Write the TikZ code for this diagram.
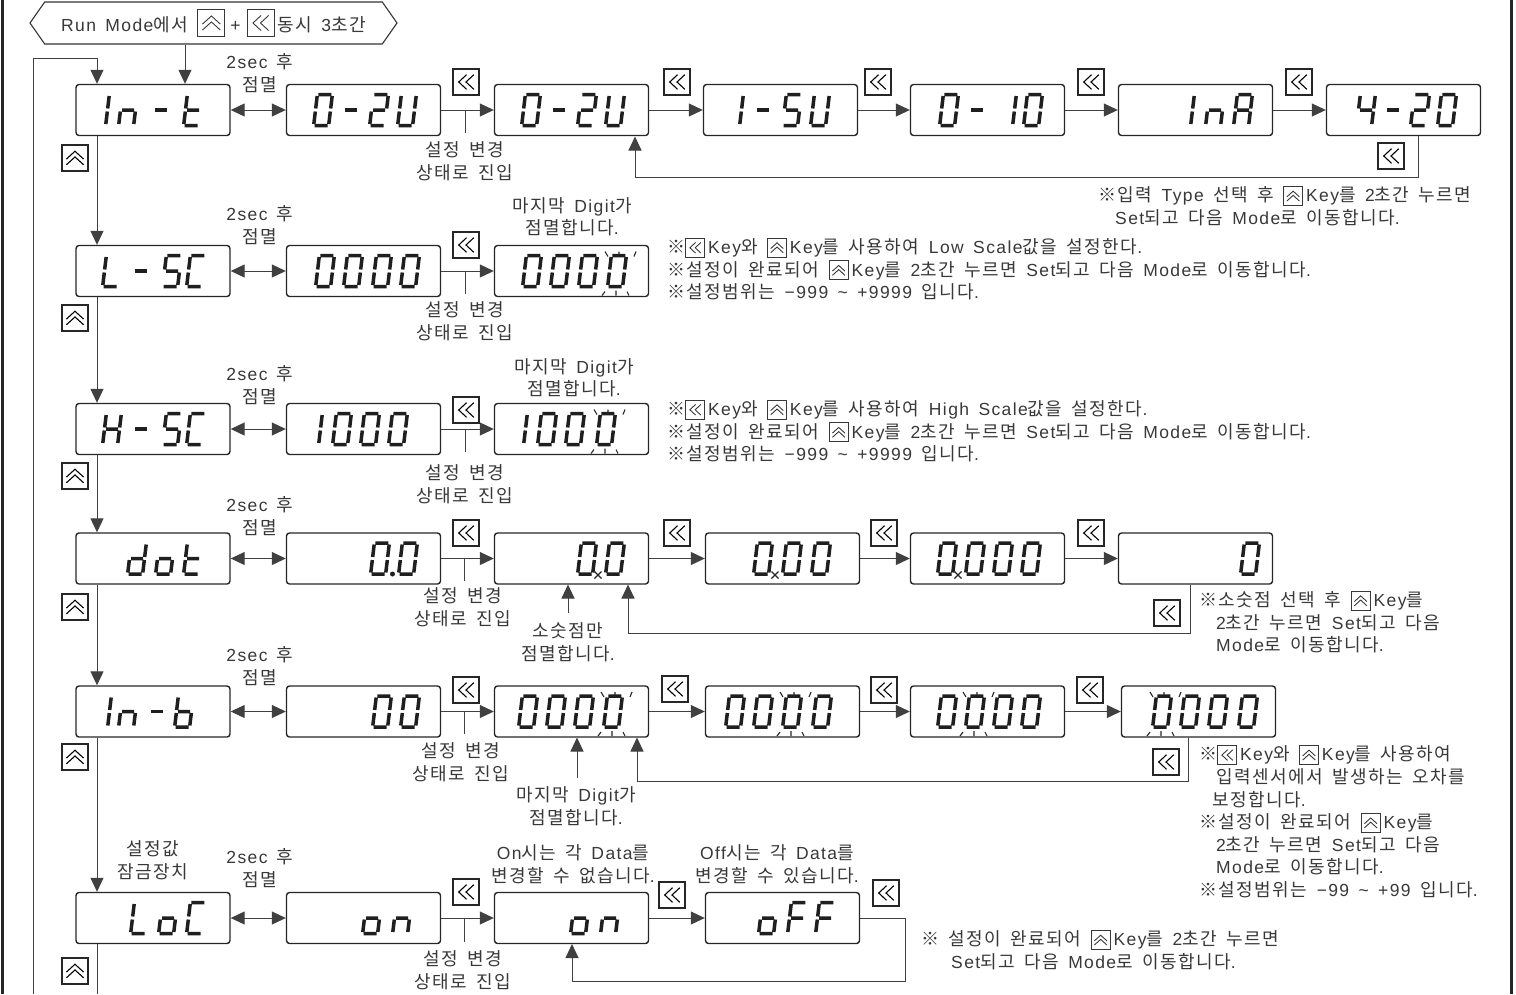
\documentclass[tikz,border=0pt]{standalone}
\usepackage{fontspec}
\usepackage{xcolor}
\usetikzlibrary{arrows.meta,shapes.symbols}
\setmainfont[LetterSpace=8,WordSpace=1.5]{Liberation Sans}
\newfontfamily\krfont[LetterSpace=8,Scale=1.03]{Noto Sans CJK KR}

% hangul and the reference mark switch to the korean font
\XeTeXinterchartokenstate=1
\newXeTeXintercharclass\krclass
\count255="AC00
\loop \XeTeXcharclass\count255=\krclass \ifnum\count255<"D7A3 \advance\count255 by 1 \repeat
\XeTeXcharclass"203B=\krclass
\XeTeXinterchartoks 0 \krclass={\krfont}
\XeTeXinterchartoks 4095 \krclass={\krfont}
\XeTeXinterchartoks \krclass 0={\normalfont}
\XeTeXinterchartoks \krclass 4095={\normalfont}

% seven segment parts
\def\sga{(1.5,-15.5)--(14.5,-15.5) }
\def\sgb{(15.5,-14)--(15.5,-1.5) }
\def\sgc{(15.5,1.5)--(15.5,14) }
\def\sgd{(1.5,15.5)--(14.5,15.5) }
\def\sge{(.5,1.5)--(.5,14) }
\def\sgf{(.5,-14)--(.5,-1.5) }
\def\sgg{(2,0)--(14,0) }
\newcommand{\defglyph}[2]{\expandafter\def\csname g#1\endcsname{#2}}
\defglyph{0}{\sga\sgb\sgc\sgd\sge\sgf}
\defglyph{1}{\sgb\sgc}
\defglyph{2}{\sga\sgb\sgg\sge\sgd}
\defglyph{4}{\sgf\sgg\sgb\sgc}
\defglyph{5}{\sga\sgf\sgg\sgc\sgd}
\defglyph{U}{\sgb\sgc\sgd\sge\sgf}
\defglyph{n}{\sgc\sge\sgg}
\defglyph{-}{\sgg}
\defglyph{t}{\sgf\sge\sgd\sgg}
\defglyph{L}{\sgf\sge\sgd}
\defglyph{C}{\sga\sgd\sge\sgf}
\defglyph{H}{\sgb\sgc\sge\sgf\sgg}
\defglyph{d}{\sgb\sgc\sgd\sge\sgg}
\defglyph{o}{\sgc\sgd\sge\sgg}
\defglyph{b}{\sgc\sgd\sge\sgf\sgg}
\defglyph{A}{\sga\sgb\sgc\sge\sgf\sgg}
\defglyph{F}{\sga\sge\sgf\sgg}
\newcommand{\showseg}[2]{\foreach \ch/\xx in {#2} \draw [segline, shift={(\xx+2,#1)}, xslant=.12] \csname g\ch\endcsname;}

% blinking digit: left edge, box top, box bottom
\newcommand{\blink}[3]{\draw [blinkline] (#1-2,#2+6) -- (#1+1,#2+11) (#1+12,#2+6) -- (#1+12,#2+11) (#1+29,#2+6) -- (#1+27,#2+11)
    (#1-5,#3-1) -- (#1-2,#3-5) (#1+9,#3-1) -- (#1+9,#3-6) (#1+22,#3-1) -- (#1+20,#3-5);}
\newcommand{\crossmark}[2]{\draw [blinkline] (#1-3.5,#2-3.5) -- (#1+3.5,#2+3.5) (#1-3.5,#2+3.5) -- (#1+3.5,#2-3.5);}

% key symbols, drawn in a unit square
\def\cl{(.52,.22) -- (.22,.5) -- (.52,.78) (.8,.22) -- (.5,.5) -- (.8,.78)}
\def\cu{(.17,.46) -- (.5,.76) -- (.83,.46) (.17,.24) -- (.5,.54) -- (.83,.24)}
\newcommand{\chevl}[1]{\tikz[x=#1pt,y=#1pt,line width=1.1pt]{\path (0,0) rectangle (1,1); \draw \cl;}}
\newcommand{\chevu}[1]{\tikz[x=#1pt,y=#1pt,line width=1.1pt]{\path (0,0) rectangle (1,1); \draw \cu;}}
\newcommand{\keyl}[1]{\raisebox{-.22\dimexpr#1pt\relax}{\tikz[x=#1pt,y=#1pt,line width=.9pt]{\draw (0,0) rectangle (1,1); \draw \cl;}}\kern3pt}
\newcommand{\keyu}[1]{\raisebox{-.22\dimexpr#1pt\relax}{\tikz[x=#1pt,y=#1pt,line width=.9pt]{\draw (0,0) rectangle (1,1); \draw \cu;}}\kern3pt}
\newcommand{\inl}{\keyl{19}}
\newcommand{\inu}{\keyu{19}}

\definecolor{textc}{gray}{.22}
\definecolor{linec}{gray}{.25}

\tikzset{
    disp/.style = {draw=black!85, rounded corners=3pt, minimum width=154pt, minimum height=51pt, inner sep=0pt, line width=1.4pt},
    keybox/.style = {draw=black!85, minimum size=26pt, inner sep=0pt, line width=1.1pt, fill=white},
    segline/.style = {draw=black!88, line width=3.5pt},
    blinkline/.style = {draw=black!85, line width=1.1pt},
    conn/.style = {draw=linec, line width=1pt},
    txt/.style = {text=textc, inner sep=0pt, align=center, font=\fontsize{17.5}{22.5}\selectfont},
    note/.style = {text=textc, inner sep=0pt, anchor=west, align=left, font=\fontsize{17.5}{22.6}\selectfont}
}

\begin{document}
\begin{tikzpicture}[x=1pt,y=-1pt]
        \useasboundingbox (0,0) rectangle (1516,994);

        \draw [black!85, line width=3pt] (2,0) -- (2,994);
        \draw [black!85, line width=3pt] (1511,0) -- (1511,994);

        \node (hdr) [signal, signal to=west and east, signal pointer angle=110, draw=black!80, line width=1.1pt,
                minimum width=367pt, minimum height=42pt, inner sep=0pt, text=textc,
                font=\fontsize{17.5}{20}\selectfont] at (213.5,23)
                {Run Mode에서 \keyu{27}\kern2pt+\kern6pt\keyl{27}동시 3초간};

        \begin{scope}[every node/.style = {disp}]
            \node (A1) at (153,110) {};
            \node (B1) at (363.5,110) {};
            \node (C1) at (571.5,110) {};
            \node (D1) at (780.5,110) {};
            \node (E1) at (987.5,110) {};
            \node (F1) at (1195.5,110) {};
            \node (G1) at (1403.5,110) {};

            \node (A2) at (153,271) {};
            \node (B2) at (363.5,271) {};
            \node (C2) at (571.5,271) {};

            \node (A3) at (153,429) {};
            \node (B3) at (363.5,429) {};
            \node (C3) at (571.5,429) {};

            \node (A4) at (153,558.5) {};
            \node (B4) at (363.5,558.5) {};
            \node (C4) at (571.5,558.5) {};
            \node (D4) at (782.5,558.5) {};
            \node (E4) at (987.5,558.5) {};
            \node (F4) at (1195.5,558.5) {};

            \node (A5) at (153,711.5) {};
            \node (B5) at (363.5,711.5) {};
            \node (C5) at (571.5,711.5) {};
            \node (D5) at (782.5,711.5) {};
            \node (E5) at (987.5,711.5) {};
            \node (F5) at (1198.5,711.5) {};

            \node (A6) at (153,918) {};
            \node (B6) at (363.5,918) {};
            \node (C6) at (571.5,918) {};
            \node (D6) at (782.5,918) {};
        \end{scope}

        % display contents
        \showseg{110}{1/90,n/118,-/151,t/183}
        \showseg{110}{0/313,-/341,2/369,U/397}
        \showseg{110}{0/521,-/549,2/577,U/605}
        \showseg{110}{1/724,-/753,5/782,U/810}
        \showseg{110}{0/939,-/967,1/997,0/1023}
        \showseg{110}{1/1175,n/1205,A/1233}
        \showseg{110}{4/1356,-/1383,2/1410,0/1437}

        \showseg{271}{L/102,-/131,5/162,C/186}
        \showseg{271}{0/315,0/343,0/372,0/400}
        \showseg{271}{0/522,0/550,0/578,0/607}
        \blink{607}{245.5}{296.5}

        \showseg{429}{H/102,-/131,5/162,C/186}
        \showseg{429}{1/303,0/332,0/360,0/388}
        \showseg{429}{1/508,0/537,0/565,0/596}
        \blink{596}{403.5}{454.5}

        \showseg{558.5}{d/127,o/155,t/183}
        \showseg{558.5}{0/370,0/398}
        \fill [black!88] (392.5,574) circle (2.5);
        \showseg{558.5}{0/577,0/605}
        \crossmark{598}{575}
        \showseg{558.5}{0/753,0/782,0/811}
        \crossmark{775}{575}
        \showseg{558.5}{0/937,0/965,0/993,0/1021}
        \crossmark{958}{575}
        \showseg{558.5}{0/1240}

        \showseg{711.5}{1/92,n/118,-/147,b/174}
        \showseg{711.5}{0/372,0/400}
        \showseg{711.5}{0/518,0/546,0/574,0/603}
        \blink{603}{686}{737}
        \showseg{711.5}{0/725,0/753,0/782,0/812}
        \blink{782}{686}{737}
        \showseg{711.5}{0/937,0/965,0/993,0/1021}
        \blink{965}{686}{737}
        \showseg{711.5}{0/1152,0/1180,0/1208,0/1238}
        \blink{1152}{686}{737}

        \showseg{918}{L/130,o/158,C/186}
        \showseg{918}{o/362,n/392}
        \showseg{918}{o/570,n/600}
        \showseg{918}{o/758,F/787,F/815}

        % connector helpers
        \coordinate (vm) at (97,0);
        \coordinate (ret) at (33,994);
        \coordinate (retc) at (33,58);
        \coordinate (hd) at (185,0);
        \coordinate (vend) at (97,994);

        \begin{scope}[>={Stealth[inset=0pt,length=14pt,width=13pt]},
                        every edge/.style={conn}]
            \draw [conn,->] (hdr.south -| hd) -- (A1.north -| hd);
            \draw [conn,->] (ret) -- (retc) -- (retc -| vm) -- (A1.north -| vm);

            \draw [conn,->] (A1.south -| vm) -- (A2.north -| vm);
            \draw [conn,->] (A2.south -| vm) -- (A3.north -| vm);
            \draw [conn,->] (A3.south -| vm) -- (A4.north -| vm);
            \draw [conn,->] (A4.south -| vm) -- (A5.north -| vm);
            \draw [conn,->] (A5.south -| vm) -- (A6.north -| vm);
            \draw [conn] (A6.south -| vm) -- (vend);

            \path [<->] (A1) edge (B1);
            \path [<->] (A2) edge (B2);
            \path [<->] (A3) edge (B3);
            \path [<->] (A4) edge (B4);
            \path [<->] (A5) edge (B5);
            \path [<->] (A6) edge (B6);

            \path [->] (B1) edge (C1);
            \path [->] (B2) edge (C2);
            \path [->] (B3) edge (C3);
            \path [->] (B4) edge (C4);
            \path [->] (B5) edge (C5);
            \path [->] (B6) edge (C6);

            \draw [conn] (465,110) -- (465,133);
            \draw [conn] (465,271) -- (465,294);
            \draw [conn] (465,429) -- (465,452);
            \draw [conn] (464,558.5) -- (464,581);
            \draw [conn] (464,711.5) -- (464,734);
            \draw [conn] (464,918) -- (464,942);

            \path [->] (C1) edge (D1);
            \path [->] (D1) edge (E1);
            \path [->] (E1) edge (F1);
            \path [->] (F1) edge (G1);
            \draw [conn,->] (1418,136) -- (1418,177) -- (635,177) -- (635,136.5);

            \path [->] (C4) edge (D4);
            \path [->] (D4) edge (E4);
            \path [->] (E4) edge (F4);
            \draw [conn,->] (1190,584.5) -- (1190,633) -- (628,633) -- (628,584.5);
            \draw [conn,->] (568,613) -- (568,584.5);

            \path [->] (C5) edge (D5);
            \path [->] (D5) edge (E5);
            \path [->] (E5) edge (F5);
            \draw [conn,->] (1188,737.5) -- (1188,781) -- (637,781) -- (637,737.5);
            \draw [conn,->] (577,778) -- (577,737.5);

            \path [->] (C6) edge (D6);
            \draw [conn,->] (D6.east) -- (905,918) -- (905,981) -- (572,981) -- (572,944);
        \end{scope}

        % keys
        \begin{scope}[every node/.style = {keybox}]
            \foreach \nm/\xx/\yy in {a/466/82,b/677/82,c/878/82,d/1091/82,e/1299/82,f/1391/156,
                                     g/466/245,h/466/410,i/466/533,j/677/533,k/884/533,l/1091/533,m/1167/613,
                                     n/466/690,o/675/689,p/884/690,q/1090/690,r/1166/762,
                                     s/466/892,t/672/895,u/886/893}
                \node (L\nm) at (\xx,\yy) {\chevl{26}};
            \foreach \nm/\yy in {a/158,b/318,c/476,d/607,e/757,f/971}
                \node (U\nm) at (75,\yy) {\chevu{26}};
        \end{scope}

        \begin{scope}[every node/.style = {txt}]
            \foreach \nm/\yy in {a/73,b/225,c/385,d/516,e/666,f/868}
                \node (sec\nm) at (260,\yy) {2sec 후\\점멸};

            \foreach \nm/\xx/\yy in {a/465/161,b/465/321,c/465/484,d/463/607,e/461/762,f/463/970}
                \node (set\nm) at (\xx,\yy) {설정 변경\\상태로 진입};

            \node (dga) at (572,217) {마지막 Digit가\\점멸합니다.};
            \node (dgb) at (574,378) {마지막 Digit가\\점멸합니다.};
            \node (dgc) at (576,806) {마지막 Digit가\\점멸합니다.};
            \node (pta) at (568,642) {소숫점만\\점멸합니다.};
            \node (lck) at (153,860) {설정값\\잠금장치};
            \node (lon) at (573,864) {On시는 각 Data를\\변경할 수 없습니다.};
            \node (lof) at (777,864) {Off시는 각 Data를\\변경할 수 있습니다.};
        \end{scope}

        \begin{scope}[every node/.style = {note}]
            \node (nta) at (1098,206) {※입력 Type 선택 후 \inu Key를 2초간 누르면\\\hspace*{17pt}Set되고 다음 Mode로 이동합니다.};
            \node (ntb) at (667,269) {※\inl Key와 \inu Key를 사용하여 Low Scale값을 설정한다.\\※설정이 완료되어 \inu Key를 2초간 누르면 Set되고 다음 Mode로 이동합니다.\\※설정범위는 −999 \char126{} +9999 입니다.};
            \node (ntc) at (667,431) {※\inl Key와 \inu Key를 사용하여 High Scale값을 설정한다.\\※설정이 완료되어 \inu Key를 2초간 누르면 Set되고 다음 Mode로 이동합니다.\\※설정범위는 −999 \char126{} +9999 입니다.};
            \node (ntd) at (1199,622) {※소숫점 선택 후 \inu Key를\\\hspace*{17pt}2초간 누르면 Set되고 다음\\\hspace*{17pt}Mode로 이동합니다.};
            \node (nte) at (1199,821.5) {※\inl Key와 \inu Key를 사용하여\\\hspace*{17pt}입력센서에서 발생하는 오차를\\\hspace*{13pt}보정합니다.\\※설정이 완료되어 \inu Key를\\\hspace*{17pt}2초간 누르면 Set되고 다음\\\hspace*{17pt}Mode로 이동합니다.\\※설정범위는 −99 \char126{} +99 입니다.};
            \node (ntf) at (921,950) {※ 설정이 완료되어 \inu Key를 2초간 누르면\\\hspace*{30pt}Set되고 다음 Mode로 이동합니다.};
        \end{scope}
    \end{tikzpicture}
\end{document}
